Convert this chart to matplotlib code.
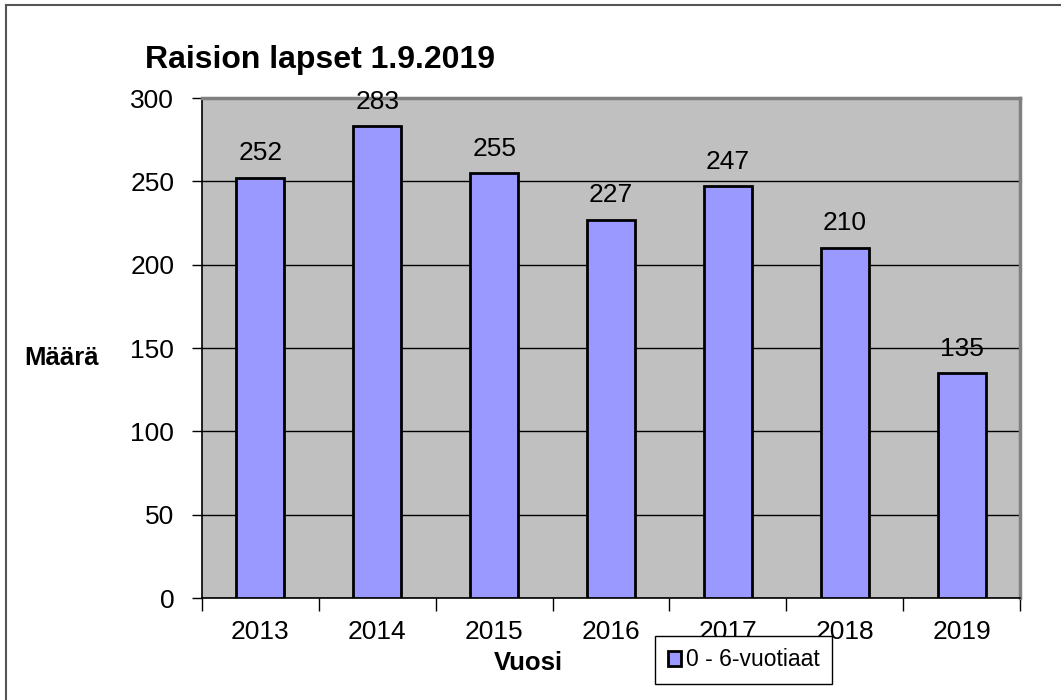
import numpy as np
import matplotlib
matplotlib.use("Agg")
import matplotlib.pyplot as plt
from matplotlib.lines import Line2D

plt.rcParams['font.family'] = ['Liberation Sans', 'DejaVu Sans']

years = ['2013', '2014', '2015', '2016', '2017', '2018', '2019']
counts = [252, 283, 255, 227, 247, 210, 135]
series_name = '0 - 6-vuotiaat'
y_ticks = [0, 50, 100, 150, 200, 250, 300]

W, H = 1061, 700
fig = plt.figure(figsize=(W / 100, H / 100), dpi=100)
fig.patch.set_facecolor('white')

# plot area in pixels: x 202..1020, y 98..598
ax = fig.add_axes([202 / W, 1 - 598 / H, (1020 - 202) / W, (598 - 98) / H])
ax.set_facecolor('#C0C0C0')

x = np.arange(len(years))
bars = ax.bar(x, counts, width=0.41, color='#9999FF', edgecolor='black',
              linewidth=2, zorder=3, label=series_name)

for xi, v in zip(x, counts):
    ax.annotate(str(v), (xi, v), xytext=(0, 9), textcoords='offset points',
                ha='center', va='bottom', fontsize=19, zorder=4)

ax.set_xlim(-0.5, len(years) - 0.5)
ax.set_ylim(0, 300)
ax.set_yticks(y_ticks)
ax.yaxis.grid(True, color='black', linewidth=1, zorder=1)
ax.set_axisbelow(True)

# labels at category centres, ticks at boundaries
ax.set_xticks(x)
ax.set_xticklabels(years, fontsize=19)
ax.tick_params(axis='x', which='major', length=0, pad=16)
ax.set_xticks(np.arange(len(years) + 1) - 0.5, minor=True)
ax.tick_params(axis='x', which='minor', length=9, width=1, direction='out')
ax.tick_params(axis='y', labelsize=19, length=7, width=1, pad=13)

ax.spines['left'].set_color('black')
ax.spines['bottom'].set_color('black')
ax.spines['left'].set_linewidth(1.2)
ax.spines['bottom'].set_linewidth(1.2)
for s in ('top', 'right'):
    ax.spines[s].set_color('#808080')
    ax.spines[s].set_linewidth(2.5)

fig.text(145 / W, 1 - 60 / H, 'Raision lapset 1.9.2019', fontsize=23,
         fontweight='bold', ha='left', va='center')
fig.text(62 / W, 1 - 358 / H, 'Määrä', fontsize=18.5, fontweight='bold',
         ha='center', va='center')
fig.text(528 / W, 1 - 663 / H, 'Vuosi', fontsize=18.5, fontweight='bold',
         ha='center', va='center')

leg = fig.legend(handles=[bars], labels=[series_name], loc='lower left',
                 bbox_to_anchor=(655 / W, 1 - 684 / H), fontsize=16.5,
                 frameon=True, fancybox=False, framealpha=1, edgecolor='black',
                 handlelength=0.6, handleheight=0.6, handletextpad=0.2,
                 borderpad=0.55, borderaxespad=0)
leg.get_frame().set_linewidth(1)

# outer chart frame (top and left edges visible)
fig.add_artist(Line2D([6 / W, 6 / W], [0, 1 - 5 / H], transform=fig.transFigure,
                      color='#555555', linewidth=1.5))
fig.add_artist(Line2D([6 / W, 1], [1 - 5 / H, 1 - 5 / H], transform=fig.transFigure,
                      color='#555555', linewidth=1.5))

fig.savefig('out.png', dpi=100)
